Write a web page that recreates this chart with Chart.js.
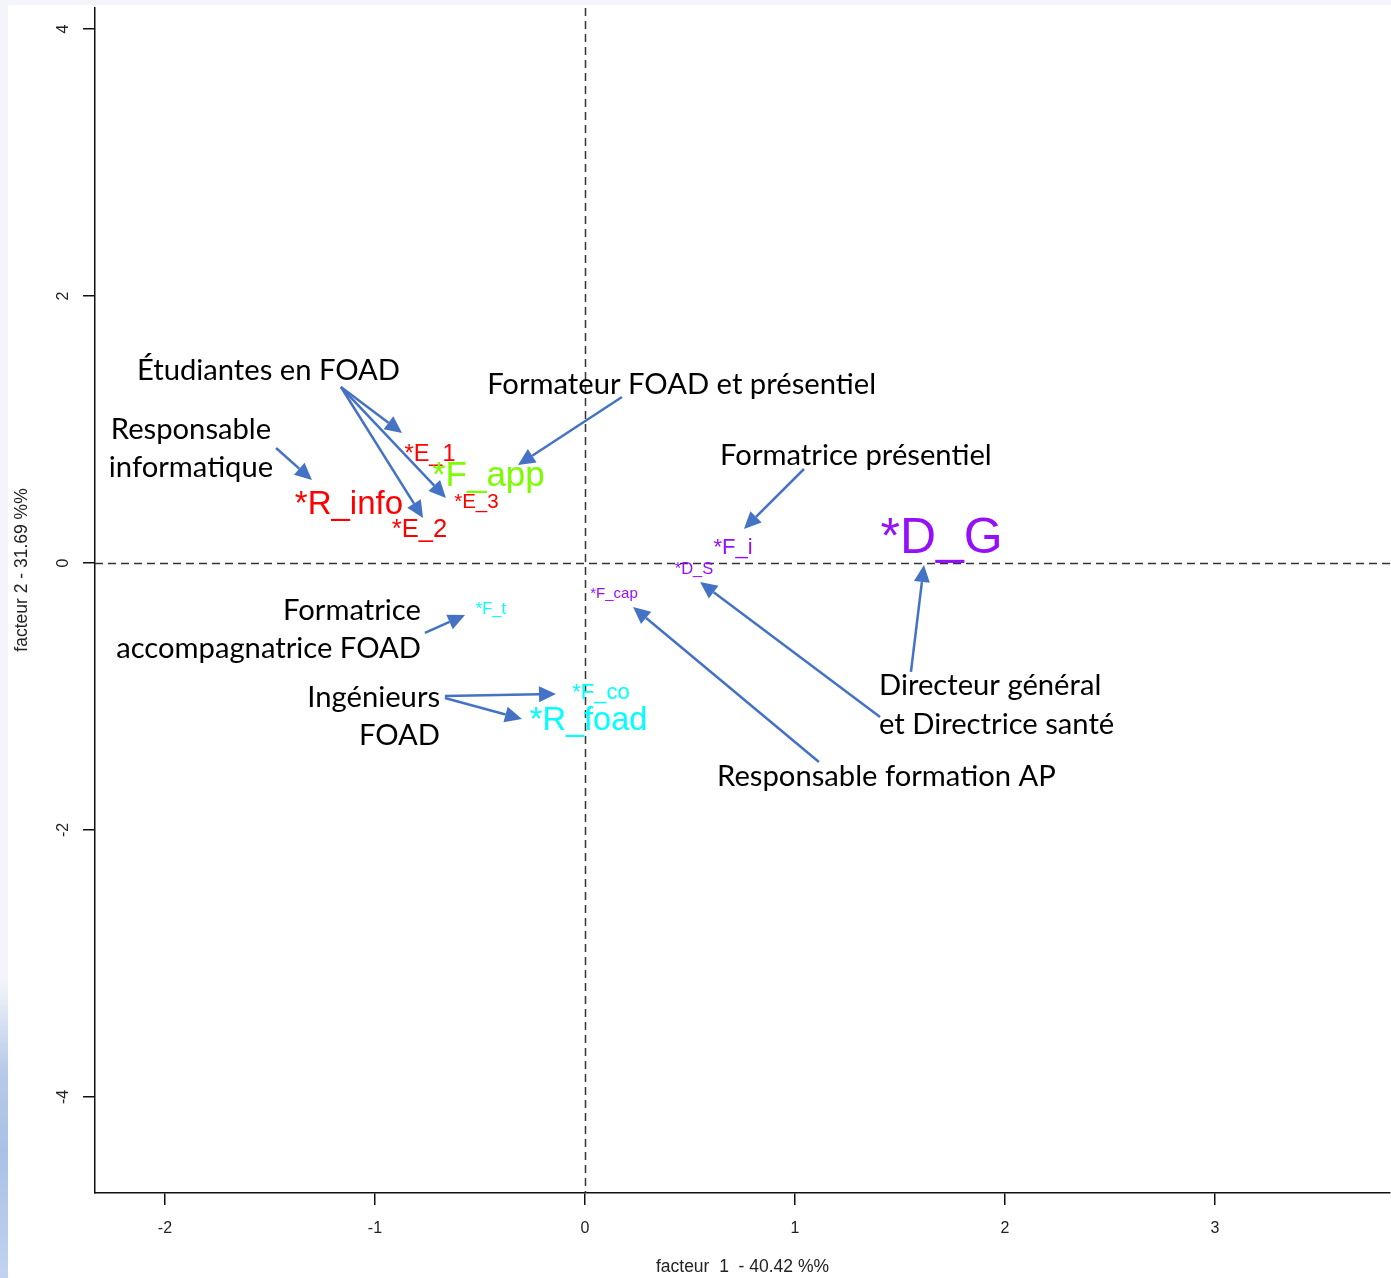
<!DOCTYPE html>
<html>
<head>
<meta charset="utf-8">
<script src="https://cdn.jsdelivr.net/npm/chart.js@4.4.1/dist/chart.umd.min.js"></script>
<style>
  html, body { margin: 0; padding: 0; background: #fff; }
  .page { position: relative; width: 1391px; height: 1278px; overflow: hidden; }
  .top-band { position: absolute; left: 0; top: 0; width: 1391px; height: 5px; background: #f3f5fa; }
  .left-band { position: absolute; left: 0; top: 0; width: 8px; height: 1278px;
    background: linear-gradient(to bottom, #f3f5fa 0, #f3f5fa 980px, #b8cae9 1070px, #aac0e6 1150px, #c2d2ee 1278px); }
  #plot { position: absolute; left: 0; top: 0; }
</style>
</head>
<body>
<div class="page">
  <div class="top-band"></div>
  <div class="left-band"></div>
  <canvas id="plot" width="1391" height="1278"></canvas>
</div>
<script>
// individuals on the factorial plane
const labels  = ['*R_info', '*E_1', '*E_2', '*E_3', '*F_app', '*F_i', '*D_S', '*D_G', '*F_cap', '*F_t', '*F_co', '*R_foad'];
const factor1 = [-1.124, -0.738, -0.788, -0.517, -0.460, 0.705, 0.519, 1.698, 0.138, -0.448, 0.076, 0.017];
const factor2 = [0.457, 0.824, 0.262, 0.464, 0.670, 0.127, -0.041, 0.206, -0.225, -0.341, -0.959, -1.165];
const groups  = [0, 0, 0, 0, 1, 2, 2, 2, 2, 3, 3, 3];

const xTicks = [-2, -1, 0, 1, 2, 3];
const yTicks = [-4, -2, 0, 2, 4];
const xTitle = 'facteur  1  - 40.42 %%';
const yTitle = 'facteur 2 - 31.69 %%';

// callouts: text lines [text, x, y, align] and arrows [x0, y0, x1, y1], in factor units
const noteLines = [
  ['Étudiantes en FOAD', -1.507, 1.438, 'center'],
  ['Responsable', -1.876, 0.996, 'center'],
  ['informatique', -1.876, 0.712, 'center'],
  ['Formateur FOAD et présentiel', 0.460, 1.333, 'center'],
  ['Formatrice présentiel', 1.290, 0.801, 'center'],
  ['Formatrice', -0.781, -0.360, 'right'],
  ['accompagnatrice FOAD', -0.781, -0.644, 'right'],
  ['Ingénieurs', -0.690, -1.011, 'right'],
  ['FOAD', -0.690, -1.296, 'right'],
  ['Directeur général', 1.400, -0.921, 'left'],
  ['et Directrice santé', 1.400, -1.213, 'left'],
  ['Responsable formation AP', 0.629, -1.603, 'left']
];
const arrows = [
  [-1.162, 1.318, -0.871, 0.974],
  [-1.162, 1.318, -0.662, 0.487],
  [-1.162, 1.318, -0.771, 0.337],
  [-1.471, 0.861, -1.300, 0.622],
  [0.176, 1.243, -0.319, 0.734],
  [1.043, 0.704, 0.757, 0.255],
  [-0.762, -0.524, -0.571, -0.390],
  [-0.667, -0.996, -0.138, -0.981],
  [-0.667, -1.011, -0.300, -1.169],
  [1.552, -0.816, 1.614, -0.015],
  [1.405, -1.154, 0.548, -0.142],
  [1.114, -1.491, 0.229, -0.330]
];

// styles
const groupColors = ['#ff0000', '#7cfc00', '#9410fa', '#00ffff'];
const labelSizes = [33, 23.5, 25.5, 20.5, 35, 22, 16.5, 50, 15, 16.5, 22, 32.5];
const arrowColor = '#4472c4';
const noteFamily = 'Lato, "Open Sans", sans-serif';
const rFont = '"Liberation Sans", Arial, sans-serif';

const points = labels.map((l, i) => ({ x: factor1[i], y: factor2[i], label: l, g: groups[i] }));

const planPlugin = {
  id: 'plan',
  beforeDatasetsDraw(chart) {
    const { ctx, chartArea: a, scales: { x, y } } = chart;
    ctx.save();
    ctx.strokeStyle = '#333';
    ctx.lineWidth = 1.5;
    ctx.setLineDash([8, 5]);
    const x0 = Math.round(x.getPixelForValue(0)) + 0.5;
    const y0 = Math.round(y.getPixelForValue(0)) + 0.5;
    ctx.beginPath();
    ctx.moveTo(x0, a.top); ctx.lineTo(x0, a.bottom);
    ctx.moveTo(a.left, y0); ctx.lineTo(a.right, y0);
    ctx.stroke();
    ctx.restore();
  },
  afterDatasetsDraw(chart) {
    const { ctx, scales: { x, y } } = chart;
    ctx.save();
    // point labels
    const meta = chart.getDatasetMeta(0);
    meta.data.forEach((el, i) => {
      const s = labelSizes[i];
      ctx.font = `${s}px ${rFont}`;
      ctx.fillStyle = groupColors[points[i].g];
      ctx.textAlign = 'center';
      ctx.textBaseline = 'alphabetic';
      ctx.fillText(points[i].label, el.x, el.y + s * 0.358);
    });
    // arrows
    ctx.strokeStyle = arrowColor;
    ctx.fillStyle = arrowColor;
    ctx.lineWidth = 2.5;
    arrows.forEach(([ax, ay, bx, by]) => {
      const x0 = x.getPixelForValue(ax), y0 = y.getPixelForValue(ay);
      const x1 = x.getPixelForValue(bx), y1 = y.getPixelForValue(by);
      const ang = Math.atan2(y1 - y0, x1 - x0);
      const hl = 17, hw = 8;
      const bxp = x1 - hl * Math.cos(ang), byp = y1 - hl * Math.sin(ang);
      ctx.beginPath();
      ctx.moveTo(x0, y0); ctx.lineTo(bxp, byp);
      ctx.stroke();
      ctx.beginPath();
      ctx.moveTo(x1, y1);
      ctx.lineTo(bxp + hw * Math.sin(ang), byp - hw * Math.cos(ang));
      ctx.lineTo(bxp - hw * Math.sin(ang), byp + hw * Math.cos(ang));
      ctx.closePath();
      ctx.fill();
    });
    // callout texts, sized so the longest line matches the slide
    ctx.font = `28px ${noteFamily}`;
    const fs = 28 * 389 / ctx.measureText('Formateur FOAD et présentiel').width;
    ctx.font = `${fs}px ${noteFamily}`;
    ctx.fillStyle = '#000';
    ctx.textBaseline = 'middle';
    noteLines.forEach(([t, tx, ty, al]) => {
      ctx.textAlign = al;
      ctx.fillText(t, x.getPixelForValue(tx), y.getPixelForValue(ty));
    });
    // y tick labels and title, rotated like R
    ctx.fillStyle = '#222';
    ctx.font = `16px ${rFont}`;
    ctx.textAlign = 'center';
    yTicks.forEach(v => {
      ctx.save();
      ctx.translate(64, y.getPixelForValue(v));
      ctx.rotate(-Math.PI / 2);
      ctx.fillText(String(v), 0, 0);
      ctx.restore();
    });
    ctx.font = `17.5px ${rFont}`;
    ctx.save();
    ctx.translate(22, 570);
    ctx.rotate(-Math.PI / 2);
    ctx.fillText(yTitle, 0, 0);
    ctx.restore();
    ctx.restore();
  }
};

new Chart(document.getElementById('plot'), {
  type: 'scatter',
  data: {
    datasets: [{
      data: points,
      pointRadius: 0,
      pointHoverRadius: 0,
      showLine: false
    }]
  },
  options: {
    responsive: false,
    animation: false,
    devicePixelRatio: 1,
    layout: { padding: { top: 8, right: 1, left: 0, bottom: 0 } },
    plugins: { legend: { display: false }, tooltip: { enabled: false } },
    events: [],
    scales: {
      x: {
        type: 'linear',
        min: -2.333,
        max: 3.833,
        afterBuildTicks: s => { s.ticks = xTicks.map(v => ({ value: v })); },
        afterFit: s => { s.height = 85; },
        border: { display: true, color: '#111', width: 1.5 },
        grid: { display: true, drawOnChartArea: false, drawTicks: true, tickLength: 12, color: '#111', lineWidth: 1.5 },
        ticks: { color: '#222', font: { size: 16, family: rFont }, padding: 14, maxRotation: 0, autoSkip: false },
        title: { display: true, text: xTitle, color: '#222', font: { size: 17.5, family: rFont }, padding: { top: 0, bottom: 0 } }
      },
      y: {
        type: 'linear',
        min: -4.719,
        max: 4.157,
        afterBuildTicks: s => { s.ticks = yTicks.map(v => ({ value: v })); },
        afterFit: s => { s.width = 95; },
        border: { display: true, color: '#111', width: 1.5 },
        grid: { display: true, drawOnChartArea: false, drawTicks: true, tickLength: 12, color: '#111', lineWidth: 1.5 },
        ticks: { display: false },
        title: { display: false }
      }
    }
  },
  plugins: [planPlugin]
});
</script>
</body>
</html>
